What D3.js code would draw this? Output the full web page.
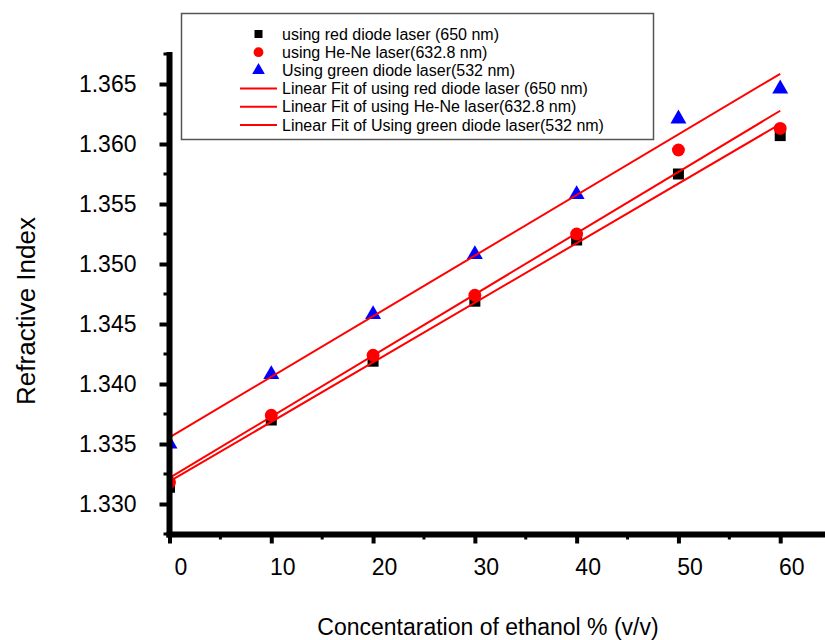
<!DOCTYPE html>
<html>
<head>
<meta charset="utf-8">
<script src="https://cdn.jsdelivr.net/npm/d3@7"></script>
<style>
  body { margin: 0; background: #fff; }
  svg { display: block; font-family: "Liberation Sans", Arial, sans-serif; }
</style>
</head>
<body>
<div id="chart"></div>
<script>
const concentration = [0, 10, 20, 30, 40, 50, 60];
const redDiode = [1.3314, 1.3370, 1.3419, 1.3469, 1.3520, 1.3575, 1.3607];
const heNe = [1.3318, 1.3374, 1.3424, 1.3474, 1.3525, 1.3595, 1.3613];
const greenDiode = [1.3350, 1.3408, 1.3458, 1.3508, 1.3558, 1.3621, 1.3646];

const xTicks = [0, 10, 20, 30, 40, 50, 60];
const xMinor = [5, 15, 25, 35, 45, 55];
const yTicks = [1.330, 1.335, 1.340, 1.345, 1.350, 1.355, 1.360, 1.365];
const yMinor = [1.3275, 1.3325, 1.3375, 1.3425, 1.3475, 1.3525, 1.3575, 1.3625, 1.3675];

const legendLabels = [
    "using red diode laser (650 nm)",
    "using He-Ne laser(632.8 nm)",
    "Using green diode laser(532 nm)",
    "Linear Fit of using red diode laser (650 nm)",
    "Linear Fit of using He-Ne laser(632.8 nm)",
    "Linear Fit of Using green diode laser(532 nm)"
];

const width = 825;
const height = 640;
const axisX = 169.5;
const axisY = 534.5;

const svg = d3.select("#chart")
    .append("svg")
    .attr("width", width)
    .attr("height", height);

const xScale = d3.scaleLinear()
    .domain([0, 64.4])
    .range([axisX, width]);

const yScale = d3.scaleLinear()
    .domain([1.3275, 1.3675])
    .range([534, 54]);

// least squares fit for each series
const fit = (xs, ys) => {
    const mx = d3.mean(xs), my = d3.mean(ys);
    const sxy = d3.sum(xs, (x, i) => (x - mx) * (ys[i] - my));
    const sxx = d3.sum(xs, x => (x - mx) * (x - mx));
    const slope = sxy / sxx;
    return {slope, intercept: my - slope * mx};
};

const series = [
    {name: "red", values: redDiode, symbol: d3.symbolSquare, size: 121, color: "#000000"},
    {name: "hene", values: heNe, symbol: d3.symbolCircle, size: 130, color: "#ff0000"},
    {name: "green", values: greenDiode, symbol: d3.symbolTriangle, size: 110, color: "#0000ff"}
];

svg.append("clipPath")
    .attr("id", "plot-clip")
    .append("rect")
    .attr("x", axisX)
    .attr("y", 0)
    .attr("width", width - axisX)
    .attr("height", axisY);

const plot = svg.append("g").attr("clip-path", "url(#plot-clip)");

series.forEach(s => {
    plot.append("g")
        .selectAll("path")
        .data(concentration)
        .enter()
        .append("path")
        .attr("transform", (d, i) => `translate(${xScale(d)}, ${yScale(s.values[i])})`)
        .attr("d", d3.symbol().type(s.symbol).size(s.size))
        .attr("fill", s.color);
});

series.forEach(s => {
    const f = fit(concentration, s.values);
    const x0 = d3.min(concentration), x1 = d3.max(concentration);
    plot.append("line")
        .attr("x1", xScale(x0))
        .attr("y1", yScale(f.intercept + f.slope * x0))
        .attr("x2", xScale(x1))
        .attr("y2", yScale(f.intercept + f.slope * x1))
        .attr("stroke", "#ff0000")
        .attr("stroke-width", 2);
});

// axes
const yAxis = svg.append("g")
    .attr("transform", `translate(${axisX}, 0)`)
    .call(d3.axisLeft(yScale).tickValues(yTicks).tickSize(10).tickSizeOuter(0).tickFormat(d3.format(".3f")));

yAxis.select(".domain").remove();
yAxis.selectAll(".tick line").attr("stroke-width", 4);
yAxis.selectAll(".tick text")
    .attr("x", -33)
    .attr("font-size", 23)
    .attr("font-family", "Liberation Sans, Arial, sans-serif")
    .attr("fill", "#000");

yAxis.selectAll(".minor")
    .data(yMinor)
    .enter()
    .append("line")
    .attr("x1", -6)
    .attr("x2", 0)
    .attr("y1", d => yScale(d))
    .attr("y2", d => yScale(d))
    .attr("stroke", "#000")
    .attr("stroke-width", 3);

const xAxis = svg.append("g")
    .attr("transform", `translate(0, ${axisY})`)
    .call(d3.axisBottom(xScale).tickValues(xTicks).tickSize(9).tickSizeOuter(0));

xAxis.select(".domain").remove();
xAxis.selectAll(".tick line").attr("stroke-width", 4);
xAxis.selectAll(".tick text")
    .attr("y", 32)
    .attr("dy", "0.35em")
    .attr("dx", 11)
    .attr("font-size", 23)
    .attr("font-family", "Liberation Sans, Arial, sans-serif")
    .attr("fill", "#000");

xAxis.selectAll(".minor")
    .data(xMinor)
    .enter()
    .append("line")
    .attr("x1", d => xScale(d))
    .attr("x2", d => xScale(d))
    .attr("y1", 0)
    .attr("y2", 5)
    .attr("stroke", "#000")
    .attr("stroke-width", 3);

// thick axis lines
svg.append("line")
    .attr("x1", axisX).attr("x2", axisX)
    .attr("y1", 52).attr("y2", axisY + 3)
    .attr("stroke", "#000").attr("stroke-width", 6);

svg.append("line")
    .attr("x1", axisX - 3).attr("x2", width)
    .attr("y1", axisY).attr("y2", axisY)
    .attr("stroke", "#000").attr("stroke-width", 6);

// titles
svg.append("text")
    .attr("transform", `translate(35, 311) rotate(-90)`)
    .attr("text-anchor", "middle")
    .attr("font-size", 26)
    .attr("fill", "#000")
    .text("Refractive Index");

svg.append("text")
    .attr("x", 488)
    .attr("y", 635)
    .attr("text-anchor", "middle")
    .attr("font-size", 23)
    .attr("fill", "#000")
    .text("Concentaration of ethanol % (v/v)");

// legend
const legend = svg.append("g");

legend.append("rect")
    .attr("x", 181.5)
    .attr("y", 13.5)
    .attr("width", 472)
    .attr("height", 126)
    .attr("fill", "#fff")
    .attr("stroke", "#555")
    .attr("stroke-width", 1.5);

const legendRow = d3.scaleLinear().domain([0, 5]).range([34, 125]);

const legendSymbols = [
    {symbol: d3.symbolSquare, size: 64, color: "#000000"},
    {symbol: d3.symbolCircle, size: 75, color: "#ff0000"},
    {symbol: d3.symbolTriangle, size: 70, color: "#0000ff"}
];

legend.selectAll(".sym")
    .data(legendSymbols)
    .enter()
    .append("path")
    .attr("transform", (d, i) => `translate(258.5, ${legendRow(i)})`)
    .attr("d", d => d3.symbol().type(d.symbol).size(d.size)())
    .attr("fill", d => d.color);

legend.selectAll(".fitline")
    .data([3, 4, 5])
    .enter()
    .append("line")
    .attr("x1", 240)
    .attr("x2", 277)
    .attr("y1", d => legendRow(d))
    .attr("y2", d => legendRow(d))
    .attr("stroke", "#ff0000")
    .attr("stroke-width", 2);

legend.selectAll(".label")
    .data(legendLabels)
    .enter()
    .append("text")
    .attr("x", d => d.startsWith("Linear") ? 282 : 282)
    .attr("y", (d, i) => legendRow(i))
    .attr("dy", "0.35em")
    .attr("font-size", 16)
    .attr("fill", "#000")
    .text(d => d);
</script>
</body>
</html>
